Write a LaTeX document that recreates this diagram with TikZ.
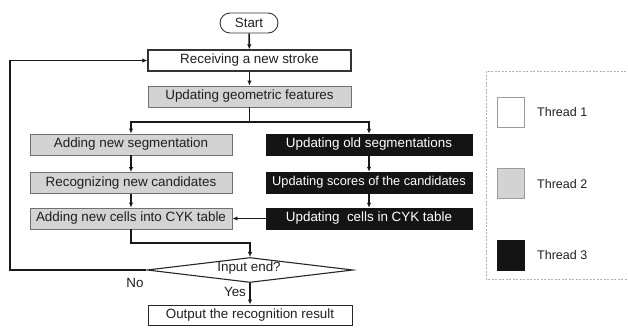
\documentclass[tikz,border=0pt]{standalone}
\usepackage{fontspec}
\setmainfont{Liberation Sans}
\usetikzlibrary{arrows.meta,shapes.geometric}
\definecolor{boxgray}{HTML}{D3D3D3}
\definecolor{boxblack}{HTML}{141414}
\definecolor{edgegray}{HTML}{707070}
\definecolor{legendgray}{HTML}{B0B0B0}
\tikzset{
  every node/.style={font=\fontsize{13.4}{16}\selectfont, text=black!88},
  conn/.style={line width=1.6pt, black!90, -{Latex[length=5pt,width=4.5pt]}},
  plainline/.style={line width=1.6pt, black!90},
  whitebox/.style={draw=black!80, line width=1.3pt, fill=white, minimum height=21pt, inner sep=0pt},
  graybox/.style={draw=edgegray, line width=0.9pt, fill=boxgray, minimum height=21pt, inner sep=0pt},
  blackbox/.style={draw=boxblack, fill=boxblack, text=white, minimum height=21pt, inner sep=0pt},
}
\begin{document}
\begin{tikzpicture}[x=1pt,y=-1pt]
\useasboundingbox (0,0) rectangle (628,327);

\node[draw=black!80, line width=0.9pt, rounded corners=10pt, minimum width=58pt, minimum height=20pt, inner sep=0pt] (start) at (249,23) {Start};
\node[whitebox, minimum width=203pt] (recv) at (249.5,60.5) {Receiving a new stroke};
\node[graybox, minimum width=203pt] (geom) at (249.5,96.5) {Updating geometric features};

\node[graybox, minimum width=202pt] (addseg) at (131,144.5) {Adding new segmentation};
\node[graybox, minimum width=202pt] (recog) at (131,183) {Recognizing new candidates};
\node[graybox, minimum width=202pt] (addcells) at (131,218.5) {Adding new cells into CYK table};

\node[blackbox, minimum width=206pt] (oldseg) at (369,144.5) {Updating old segmentations};
\node[blackbox, minimum width=206pt] (scores) at (369,182.5) {\fontsize{12.8}{15}\selectfont Updating scores of the candidates};
\node[blackbox, minimum width=206pt] (updcells) at (369,218.5) {Updating\ \ cells in CYK table};

\node[draw=black!85, line width=1.1pt, diamond, aspect=8, minimum width=206pt, minimum height=25pt, inner sep=0pt] (dec) at (250,270) {};
\node (dectext) at (249,268.5) {Input end?};

\node[draw=black!85, line width=1pt, minimum width=204pt, minimum height=20pt, inner sep=0pt] (out) at (250,315) {Output the recognition result};

\coordinate (split) at (249.5,122);
\coordinate (splitL) at (131,122);
\coordinate (splitR) at (369,122);
\coordinate (joinA) at (131,243);
\coordinate (joinB) at (250,243);
\coordinate (loopA) at (10,270);
\coordinate (loopB) at (10,60.5);

\draw[conn] (start) -- (recv);
\draw[conn] (recv) -- (geom);
\draw[plainline] (geom.south) -- (split);
\draw[conn] (split) -- (splitL) -- (addseg.north);
\draw[conn] (split) -- (splitR) -- (oldseg.north);
\draw[conn] (addseg) -- (recog);
\draw[conn] (recog) -- (addcells);
\draw[conn] (oldseg) -- (scores);
\draw[conn] (scores) -- (updcells);
\draw[conn] (updcells.west) -- (addcells.east);
\draw[conn] (addcells.south) -- (joinA) -- (joinB) -- (dec.north);
\draw[conn] (dec.west) -- (loopA) -- (loopB) -- (recv.west);
\draw[conn] (dec.south) -- (out.north);

\node (no) at (135,283) {No};
\node (yes) at (235,292) {Yes};

% legend
\draw[legendgray, line width=0.8pt, dash pattern=on 2pt off 1.5pt] (640,71) -- (486,71) -- (486,279) -- (640,279);
\node[draw=edgegray!70, line width=0.7pt, fill=white, minimum width=27pt, minimum height=30pt, inner sep=0pt] (l1) at (510.5,112) {};
\node[draw=edgegray!70, line width=0.7pt, fill=boxgray, minimum width=27pt, minimum height=30pt, inner sep=0pt] (l2) at (510.5,183) {};
\node[draw=boxblack, fill=boxblack, minimum width=27pt, minimum height=30pt, inner sep=0pt] (l3) at (510.5,255) {};
\node[anchor=west, font=\fontsize{12.5}{14}\selectfont, inner sep=0pt] (t1) at (537,112) {Thread 1};
\node[anchor=west, font=\fontsize{12.5}{14}\selectfont, inner sep=0pt] (t2) at (537,184) {Thread 2};
\node[anchor=west, font=\fontsize{12.5}{14}\selectfont, inner sep=0pt] (t3) at (537,255) {Thread 3};
\end{tikzpicture}
\end{document}
